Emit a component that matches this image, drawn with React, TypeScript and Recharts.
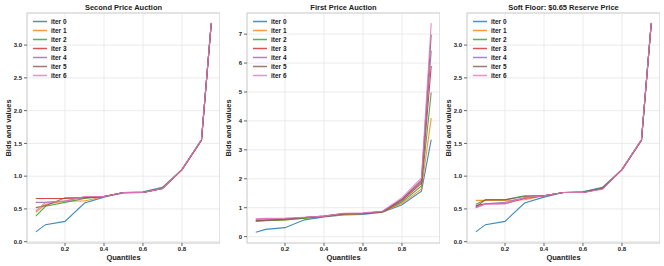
import React from "react";
import {
  LineChart,
  Line,
  XAxis,
  YAxis,
  CartesianGrid,
  Legend,
  ReferenceLine,
} from "recharts";

const QUANTILES = [0.05, 0.1, 0.2, 0.3, 0.4, 0.5, 0.6, 0.7, 0.8, 0.9, 0.95];
const ITER_NAMES = ["iter 0", "iter 1", "iter 2", "iter 3", "iter 4", "iter 5", "iter 6"];
const COLORS = ["#1f77b4", "#ff7f0e", "#2ca02c", "#d62728", "#9467bd", "#8c564b", "#e377c2"];
const X_TICKS = [0.2, 0.4, 0.6, 0.8];
const Y_TICKS_SMALL = [0, 0.5, 1, 1.5, 2, 2.5, 3];
const Y_TICKS_FIRST = [0, 1, 2, 3, 4, 5, 6, 7];

const SECOND_PRICE = [
  [0.15, 0.26, 0.31, 0.59, 0.68, 0.75, 0.76, 0.83, 1.1, 1.55, 3.33],
  [0.45, 0.57, 0.62, 0.62, 0.69, 0.75, 0.75, 0.82, 1.1, 1.55, 3.33],
  [0.39, 0.54, 0.6, 0.66, 0.69, 0.75, 0.75, 0.82, 1.1, 1.55, 3.33],
  [0.66, 0.66, 0.66, 0.67, 0.69, 0.75, 0.75, 0.81, 1.1, 1.55, 3.33],
  [0.6, 0.6, 0.62, 0.68, 0.69, 0.74, 0.75, 0.81, 1.1, 1.55, 3.33],
  [0.52, 0.55, 0.67, 0.67, 0.69, 0.75, 0.75, 0.81, 1.1, 1.55, 3.33],
  [0.47, 0.6, 0.62, 0.69, 0.69, 0.75, 0.75, 0.81, 1.1, 1.56, 3.34],
];

const FIRST_PRICE = [
  [0.15, 0.25, 0.31, 0.58, 0.68, 0.75, 0.77, 0.84, 1.1, 1.57, 3.35],
  [0.55, 0.56, 0.58, 0.64, 0.7, 0.77, 0.79, 0.85, 1.15, 1.65, 4.1],
  [0.53, 0.55, 0.58, 0.64, 0.7, 0.78, 0.8, 0.86, 1.2, 1.75, 4.98],
  [0.6, 0.61, 0.62, 0.66, 0.7, 0.79, 0.8, 0.86, 1.25, 1.85, 5.9],
  [0.54, 0.56, 0.6, 0.66, 0.71, 0.79, 0.81, 0.87, 1.28, 1.9, 6.43],
  [0.55, 0.57, 0.6, 0.66, 0.71, 0.8, 0.81, 0.87, 1.3, 1.95, 6.98],
  [0.62, 0.63, 0.64, 0.67, 0.71, 0.81, 0.82, 0.88, 1.35, 2.03, 7.38],
];

const SOFT_FLOOR = [
  [0.15, 0.26, 0.31, 0.59, 0.68, 0.75, 0.76, 0.83, 1.1, 1.55, 3.33],
  [0.63, 0.63, 0.63, 0.64, 0.7, 0.75, 0.75, 0.81, 1.1, 1.55, 3.33],
  [0.57, 0.64, 0.64, 0.7, 0.7, 0.75, 0.76, 0.82, 1.1, 1.55, 3.33],
  [0.55, 0.58, 0.58, 0.66, 0.7, 0.75, 0.75, 0.81, 1.1, 1.55, 3.33],
  [0.52, 0.58, 0.6, 0.67, 0.7, 0.75, 0.75, 0.81, 1.1, 1.55, 3.33],
  [0.53, 0.64, 0.64, 0.69, 0.7, 0.75, 0.75, 0.81, 1.1, 1.55, 3.33],
  [0.52, 0.57, 0.58, 0.67, 0.7, 0.75, 0.75, 0.8, 1.1, 1.56, 3.34],
];

const FONT = '"Liberation Sans", Arial, sans-serif';
const GRID = "#e6e6e6";
const SPINE = "#d0d0d0";
const X_DOMAIN: [number, number] = [0.005, 0.995];

function renderLegend(props: any) {
  const payload = props.payload || [];
  return (
    <div style={{ fontFamily: FONT }}>
      {payload.map((p: any) => (
        <div key={p.value} style={{ height: 9, display: "flex", alignItems: "center" }}>
          <svg width={14} height={3} style={{ display: "block" }}>
            <line x1={0} y1={1.5} x2={14} y2={1.5} stroke={p.color} strokeOpacity={0.8} strokeWidth={1.5} />
          </svg>
          <span style={{ marginLeft: 4, fontSize: 6.5, fontWeight: "bold", color: "#222", lineHeight: "9px" }}>
            {p.value}
          </span>
        </div>
      ))}
    </div>
  );
}

interface PanelProps {
  left: number;
  title: string;
  series: number[][];
  yDomain: [number, number];
  yTicks: number[];
  yDigits: number;
}

function Panel({ left, title, series, yDomain, yTicks, yDigits }: PanelProps) {
  const data = QUANTILES.map((q, i) => {
    const row: Record<string, number> = { q };
    series.forEach((s, k) => {
      row[`it${k}`] = s[i];
    });
    return row;
  });

  const tickStyle = { fontSize: 6, fontWeight: "bold", fill: "#222", fontFamily: FONT };

  return (
    <div style={{ position: "absolute", left, top: 0, width: 220, height: 266 }}>
      <div
        style={{
          position: "absolute",
          left: 27,
          width: 193,
          top: 3,
          textAlign: "center",
          fontFamily: FONT,
          fontSize: 7.5,
          fontWeight: "bold",
          color: "#222",
          lineHeight: "9px",
          zIndex: 2,
        }}
      >
        {title}
      </div>
      <LineChart width={220} height={266} data={data} margin={{ top: 13, right: 0, bottom: 0, left: 0 }}>
        <CartesianGrid stroke={GRID} strokeWidth={0.8} />
        <XAxis
          type="number"
          dataKey="q"
          domain={X_DOMAIN}
          allowDataOverflow
          ticks={X_TICKS}
          tickFormatter={(v: number) => v.toFixed(1)}
          tick={tickStyle}
          tickSize={3}
          tickMargin={1}
          tickLine={{ stroke: "#666" }}
          axisLine={{ stroke: SPINE }}
          height={23}
          label={{
            content: () => (
              <text
                x={123.5}
                y={260}
                textAnchor="middle"
                fontFamily={FONT}
                fontSize={7.5}
                fontWeight="bold"
                fill="#222"
              >
                Quantiles
              </text>
            ),
          }}
        />
        <YAxis
          type="number"
          width={27}
          domain={yDomain}
          allowDataOverflow
          ticks={yTicks}
          tickFormatter={(v: number) => v.toFixed(yDigits)}
          tick={tickStyle}
          tickSize={3}
          tickMargin={2}
          tickLine={{ stroke: "#666" }}
          axisLine={{ stroke: SPINE }}
          label={{
            content: () => (
              <text
                x={8}
                y={128}
                transform="rotate(-90 8 128)"
                textAnchor="middle"
                dominantBaseline="central"
                fontFamily={FONT}
                fontSize={7.5}
                fontWeight="bold"
                fill="#222"
              >
                Bids and values
              </text>
            ),
          }}
        />
        <ReferenceLine y={yDomain[1]} stroke={SPINE} ifOverflow="visible" />
        <ReferenceLine x={X_DOMAIN[1]} stroke={SPINE} ifOverflow="visible" />
        <Legend
          layout="horizontal"
          verticalAlign="middle"
          align="center"
          content={renderLegend}
          wrapperStyle={{ top: 16.5, left: 33, width: "auto", height: "auto" }}
        />
        {ITER_NAMES.map((name, k) => (
          <Line
            key={name}
            type="linear"
            dataKey={`it${k}`}
            name={name}
            stroke={COLORS[k]}
            strokeOpacity={0.85}
            strokeWidth={1.1}
            dot={false}
            activeDot={false}
            isAnimationActive={false}
          />
        ))}
      </LineChart>
    </div>
  );
}

export default function App() {
  return (
    <div style={{ position: "absolute", left: 0, top: 0, width: 664, height: 266, background: "#fff" }}>
      <Panel
        left={0}
        title="Second Price Auction"
        series={SECOND_PRICE}
        yDomain={[-0.02, 3.49]}
        yTicks={Y_TICKS_SMALL}
        yDigits={1}
      />
      <Panel
        left={220}
        title="First Price Auction"
        series={FIRST_PRICE}
        yDomain={[-0.22, 7.73]}
        yTicks={Y_TICKS_FIRST}
        yDigits={0}
      />
      <Panel
        left={440}
        title="Soft Floor: $0.65 Reserve Price"
        series={SOFT_FLOOR}
        yDomain={[-0.02, 3.49]}
        yTicks={Y_TICKS_SMALL}
        yDigits={1}
      />
    </div>
  );
}
